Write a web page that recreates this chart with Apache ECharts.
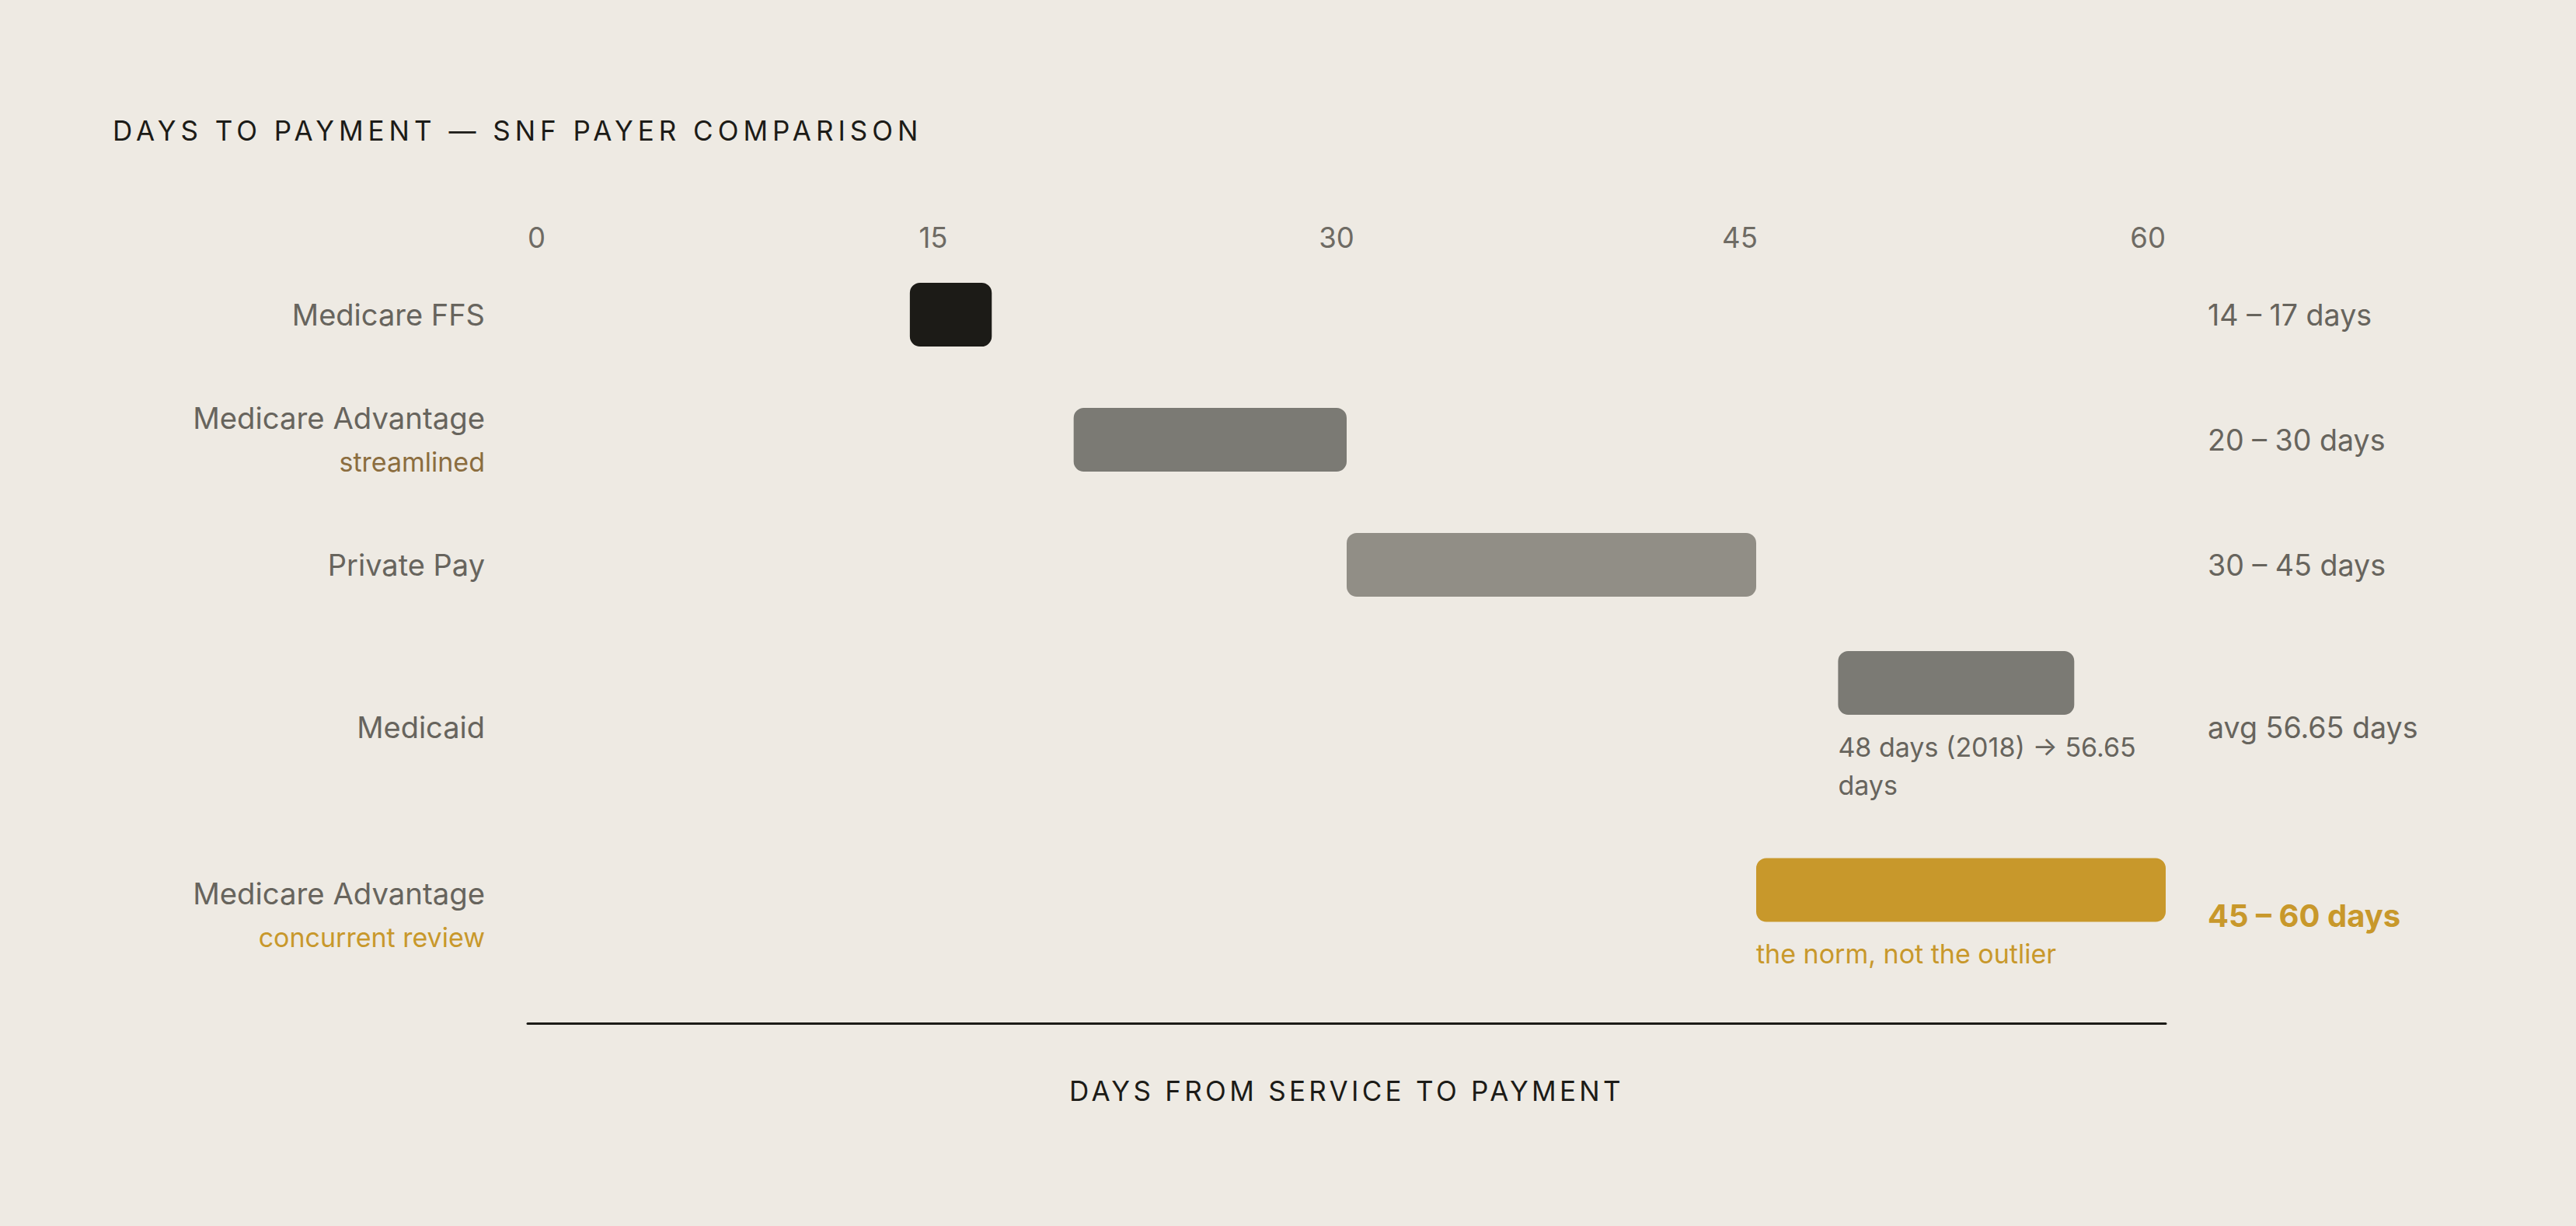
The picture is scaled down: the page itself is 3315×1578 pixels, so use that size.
<!DOCTYPE html>
<html>
<head>
<meta charset="utf-8">
<script src="https://cdn.jsdelivr.net/npm/echarts@6/dist/echarts.min.js"></script>
<style>
html,body{margin:0;padding:0;background:#EEEAE3;}
#c{width:3315px;height:1578px;}
</style>
</head>
<body>
<div id="c"></div>
<script>
// ---------- DATA ----------
const titleText = 'DAYS TO PAYMENT — SNF PAYER COMPARISON';
const axisTitle = 'DAYS FROM SERVICE TO PAYMENT';
const payers = ['Medicare FFS', 'Medicare Advantage', 'Private Pay', 'Medicaid', 'Medicare Advantage'];
const payerNotes = ['', 'streamlined', '', '', 'concurrent review'];
const rangeStart = [14, 20, 30, 48, 45];
const rangeEnd = [17, 30, 45, 56.65, 60];
const rangeLabels = ['14 – 17 days', '20 – 30 days', '30 – 45 days', 'avg 56.65 days', '45 – 60 days'];
const barNotes = ['', '', '', '48 days (2018) → 56.65 days', 'the norm, not the outlier'];
const tickValues = [0, 15, 30, 45, 60];

// ---------- STYLE / LAYOUT ----------
const FONT = 'Inter, "DM Sans", "Noto Sans", sans-serif';
const C = {
  bg: '#EEEAE3', ink: '#1C1B17', text: '#67645D', tick: '#6E6B64',
  gold: '#C8982B', brown: '#8B6D3F'
};
const barColors = ['#1C1B17', '#7B7A74', '#918E86', '#7B7A74', '#C8982B'];
const payerNoteColors = ['', C.brown, '', '', C.gold];
const barNoteColors = ['', '', '', C.text, C.gold];
const highlight = [false, false, false, false, true];
const noteLines = [0, 0, 0, 2, 1];
const L = {
  gridTop: 364, axisY: 1317, gridLeft: 679, gridRight: 528,
  barH: 82, radius: 13, rowGap: 70, twoLineLabelH: 100, labelHalfGap: 28.5,
  noteGap: 16.5, noteLineH: 49, leftPad: 55, rightPad: 54
};
const titleSpacing = 6;
const axisTitleSpacing = 4.3;

// row layout (like stacked flex rows)
const rows = [];
(function () {
  let cursor = 0;
  for (let i = 0; i < payers.length; i++) {
    const barBlock = L.barH + (noteLines[i] ? L.noteGap + noteLines[i] * L.noteLineH : 0);
    const labelBlock = payerNotes[i] ? L.twoLineLabelH : L.barH;
    const h = Math.max(barBlock, labelBlock);
    const center = cursor + h / 2;
    const barTop = center - barBlock / 2;
    rows.push({ center: center, barCenter: barTop + L.barH / 2 });
    cursor += h + L.rowGap;
  }
})();

const tickShift = { 0: 0, 15: 10, 30: 26, 45: 42, 60: 0 };
const tickRich = {};
tickValues.forEach(v => {
  tickRich['t' + v] = {
    fontSize: 36.5, fontFamily: FONT, color: C.tick, lineHeight: 42,
    padding: [0, tickShift[v] || 0, 0, 0]
  };
});

const chart = echarts.init(document.getElementById('c'), null, { renderer: 'svg' });

const option = {
  backgroundColor: C.bg,
  animation: false,
  title: {
    text: titleText,
    left: 140, top: 142,
    textStyle: { fontFamily: FONT, fontSize: 35, fontWeight: 400, color: C.ink, lineHeight: 42 }
  },
  grid: { left: L.gridLeft, right: L.gridRight, top: L.gridTop, bottom: 1578 - L.axisY, containLabel: false },
  xAxis: [
    {
      type: 'value', position: 'bottom', min: 0, max: 60, interval: 15,
      axisLine: { show: true, onZero: false, lineStyle: { color: C.ink, width: 3 } },
      axisTick: { show: false }, axisLabel: { show: false }, splitLine: { show: false },
      name: axisTitle, nameLocation: 'middle', nameGap: 66,
      nameTextStyle: { fontFamily: FONT, fontSize: 35, color: C.ink, lineHeight: 42 }
    },
    {
      type: 'value', position: 'top', min: 0, max: 60, interval: 15,
      axisLine: { show: false, onZero: false }, axisTick: { show: false }, splitLine: { show: false },
      axisLabel: {
        show: true, margin: 37, alignMinLabel: 'left', alignMaxLabel: 'right',
        fontFamily: FONT, fontSize: 36.5, color: C.tick,
        formatter: v => '{t' + v + '|' + v + '}',
        rich: tickRich
      }
    }
  ],
  yAxis: { type: 'value', inverse: true, min: 0, max: L.axisY - L.gridTop, show: false },
  series: [{
    type: 'custom',
    clip: false,
    silent: true,
    xAxisIndex: 0,
    encode: { x: [0, 1], y: 2 },
    data: rangeStart.map((s, i) => [s, rangeEnd[i], i]),
    renderItem: function (params, api) {
      const i = api.value(2);
      const r = rows[i];
      const a = api.coord([api.value(0), r.barCenter]);
      const b = api.coord([api.value(1), r.barCenter]);
      const xMin = api.coord([tickValues[0], r.barCenter])[0];
      const xMax = api.coord([tickValues[tickValues.length - 1], r.barCenter])[0];
      const cy = api.coord([0, r.center])[1];
      const children = [{
        type: 'rect',
        shape: { x: a[0], y: a[1] - L.barH / 2, width: b[0] - a[0], height: L.barH, r: L.radius },
        style: { fill: barColors[i] }
      }];
      // left label
      if (payerNotes[i]) {
        children.push({ type: 'text', style: { text: payers[i], x: xMin - L.leftPad, y: cy - L.labelHalfGap, fill: C.text, fontFamily: FONT, fontSize: 38.3, align: 'right', verticalAlign: 'middle' } });
        children.push({ type: 'text', style: { text: payerNotes[i], x: xMin - L.leftPad, y: cy + L.labelHalfGap, fill: payerNoteColors[i], fontFamily: FONT, fontSize: 34, align: 'right', verticalAlign: 'middle' } });
      } else {
        children.push({ type: 'text', style: { text: payers[i], x: xMin - L.leftPad, y: cy, fill: C.text, fontFamily: FONT, fontSize: 38, align: 'right', verticalAlign: 'middle' } });
      }
      // right label
      children.push({ type: 'text', style: {
        text: rangeLabels[i], x: xMax + L.rightPad, y: cy,
        fill: highlight[i] ? C.gold : C.text, fontFamily: FONT,
        fontSize: highlight[i] ? 40 : 37.6, fontWeight: highlight[i] ? 700 : 400,
        align: 'left', verticalAlign: 'middle'
      } });
      // note under bar
      if (barNotes[i]) {
        children.push({ type: 'text', style: {
          text: barNotes[i], x: a[0], y: a[1] + L.barH / 2 + L.noteGap,
          fill: barNoteColors[i], fontFamily: FONT, fontSize: 34, lineHeight: L.noteLineH,
          width: xMax - a[0], overflow: 'break', align: 'left', verticalAlign: 'top'
        } });
      }
      return { type: 'group', children: children };
    }
  }]
};
chart.setOption(option);

function applySpacing() {
  document.querySelectorAll('#c text').forEach(t => {
    const s = t.textContent;
    if (s === titleText) t.setAttribute('letter-spacing', titleSpacing);
    if (s === axisTitle) t.setAttribute('letter-spacing', axisTitleSpacing);
  });
}
applySpacing();
chart.on('finished', applySpacing);
setTimeout(applySpacing, 50);
</script>
</body>
</html>
